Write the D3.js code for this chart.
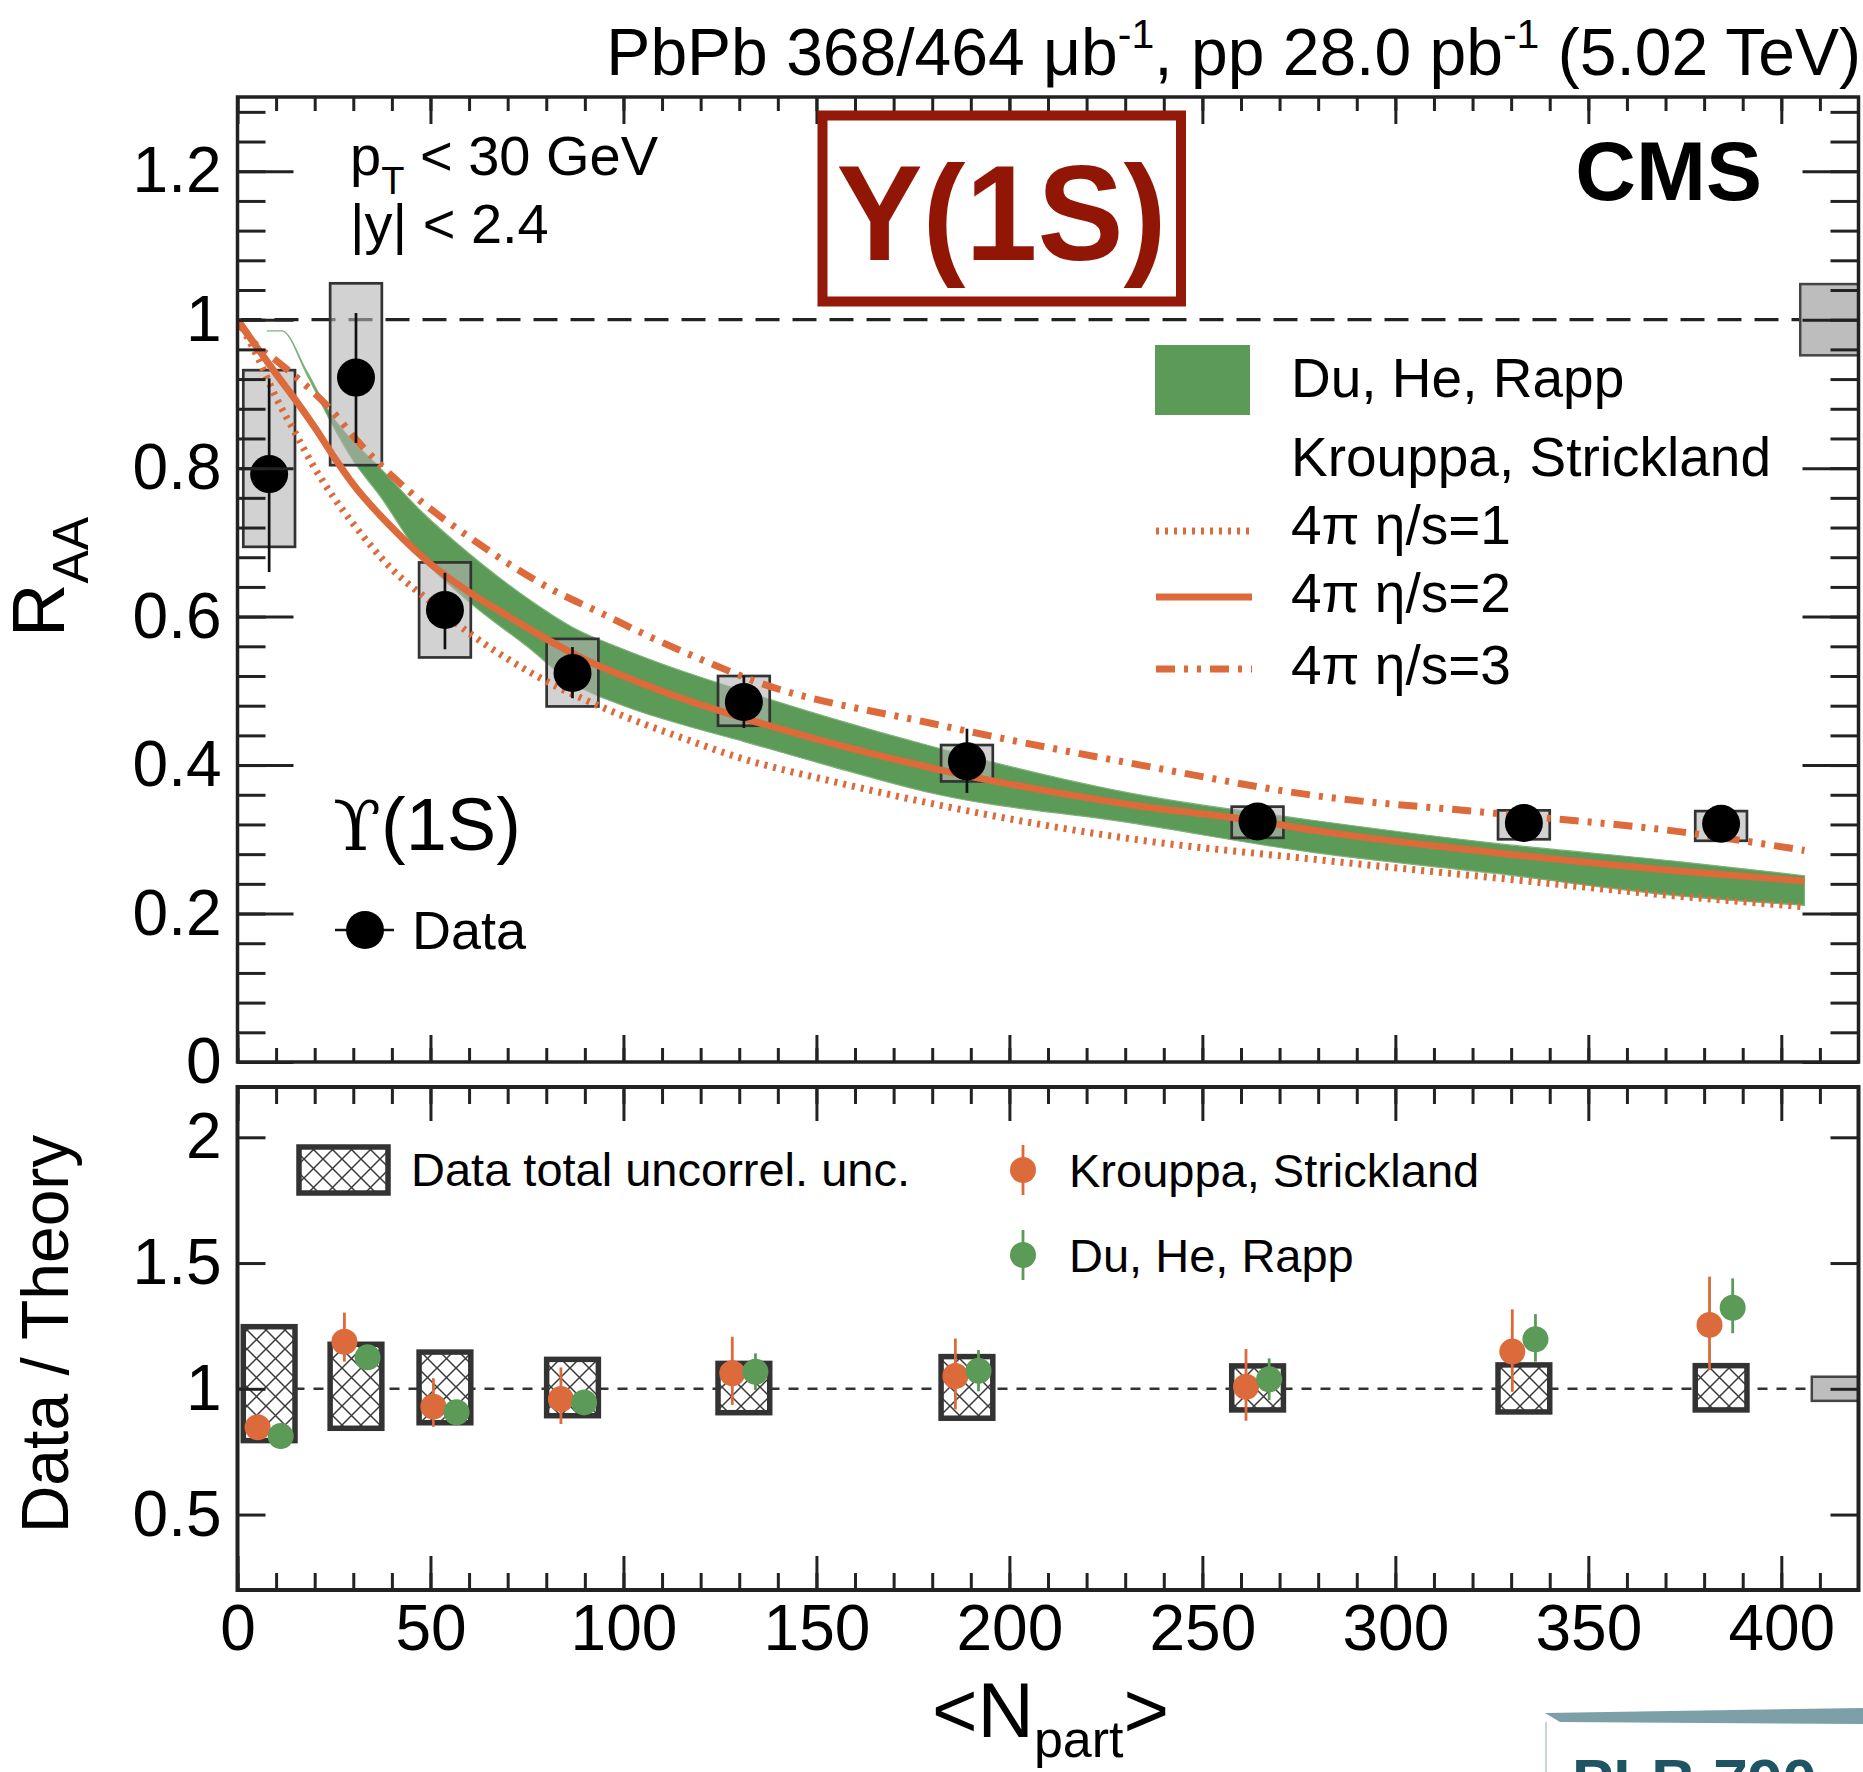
<!DOCTYPE html>
<meta charset="utf-8">
<title>Upsilon(1S) RAA vs Npart</title>
<script src="https://d3js.org/d3.v7.min.js"></script>
<style>
  body { margin: 0; background: #fff; }
  svg { display: block; font-family: "Liberation Sans", Arial, Helvetica, sans-serif; }
</style>
<div id="chart"></div>
<script>
  // ---- data points (Upsilon(1S) R_AA vs <Npart>) ----
  const npart  = [8.2, 30.7, 53.75, 86.8, 131.2, 189.0, 264.3, 333.3, 384.4];
  const raa    = [0.792, 0.922, 0.609, 0.524, 0.485, 0.405, 0.324, 0.322, 0.321];
  const statLo = [0.660, 0.834, 0.556, 0.490, 0.450, 0.3625, 0.304, 0.302, 0.301];
  const statHi = [0.921, 1.009, 0.659, 0.559, 0.520, 0.449, 0.344, 0.342, 0.341];
  const systLo = [0.694, 0.804, 0.545, 0.479, 0.453, 0.378, 0.302, 0.300, 0.298];
  const systHi = [0.932, 1.049, 0.673, 0.570, 0.520, 0.427, 0.344, 0.339, 0.338];
  const globalUnc = 0.048;

  // ---- Du, He, Rapp band ----
  const dhrN  = [7.6, 11.5, 18, 24, 30, 37, 47, 60, 75, 87, 100, 115, 131, 154, 180, 231, 279, 326, 374, 406];
  const dhrHi = [0.985, 0.985, 0.93, 0.874, 0.836, 0.80, 0.745, 0.685, 0.625, 0.585, 0.556, 0.527, 0.50, 0.463, 0.425, 0.3625, 0.3253, 0.2945, 0.2697, 0.251];
  const dhrLo = [0.985, 0.985, 0.926, 0.864, 0.81, 0.762, 0.685, 0.62, 0.56, 0.51, 0.48, 0.455, 0.432, 0.398, 0.362, 0.3224, 0.282, 0.254, 0.2234, 0.211];

  // ---- Krouppa, Strickland curves ----
  const ks1N = [0, 5, 10, 15, 20, 25, 30, 40, 50, 60, 70, 80, 90, 100, 115, 130, 155, 180, 231, 279, 326, 374, 406];
  const ks1R = [1.0, 0.952, 0.895, 0.847, 0.80, 0.76, 0.725, 0.664, 0.62, 0.578, 0.543, 0.513, 0.488, 0.466, 0.437, 0.41, 0.377, 0.348, 0.301, 0.273, 0.248, 0.223, 0.209];
  const ks2N = [0, 5, 10, 15, 20, 25, 30, 40, 50, 60, 70, 80, 90, 100, 115, 130, 155, 180, 231, 265, 279, 326, 374, 406];
  const ks2R = [1.0, 0.963, 0.927, 0.892, 0.855, 0.815, 0.778, 0.72, 0.671, 0.633, 0.601, 0.57, 0.542, 0.52, 0.49, 0.465, 0.428, 0.396, 0.347, 0.324, 0.312, 0.282, 0.257, 0.244];
  const ks3N = [0, 5, 10, 14, 24, 31, 46, 62, 70, 82, 92.5, 108, 123, 133, 180, 234, 279, 326, 374, 406];
  const ks3R = [1.0, 0.965, 0.945, 0.928, 0.88, 0.837, 0.762, 0.70, 0.672, 0.635, 0.609, 0.57, 0.536, 0.515, 0.456, 0.40, 0.359, 0.335, 0.31, 0.285];

  // ---- ratio panel ----
  const uncorrLo = [0.794, 0.843, 0.865, 0.893, 0.905, 0.883, 0.916, 0.908, 0.916];
  const uncorrHi = [1.247, 1.177, 1.146, 1.117, 1.101, 1.128, 1.091, 1.095, 1.092];
  const ksRatio  = [0.847, 1.187, 0.929, 0.959, 1.062, 1.051, 1.008, 1.148, 1.254];
  const ksErrLo  = [0.81, 1.108, 0.849, 0.86, 0.936, 0.918, 0.873, 0.988, 1.075];
  const ksErrHi  = [0.885, 1.303, 1.042, 1.085, 1.207, 1.2, 1.158, 1.316, 1.446];
  const dhrRatio = [0.812, 1.125, 0.907, 0.946, 1.068, 1.072, 1.038, 1.197, 1.322];
  const dhrErrLo = [0.78, 1.085, 0.875, 0.915, 0.995, 0.99, 0.955, 1.108, 1.221];
  const dhrErrHi = [0.845, 1.165, 0.94, 0.977, 1.141, 1.154, 1.121, 1.297, 1.439];

  const rTicks = [0, 0.2, 0.4, 0.6, 0.8, 1, 1.2];
  const ratioTicks = [0.5, 1, 1.5, 2];
  const xTicks = [0, 50, 100, 150, 200, 250, 300, 350, 400];

  // ---- layout ----
  const W = 1863, H = 1772;
  const left = 237.5, right = 1858.5;
  const top1 = 97, bot1 = 1062, top2 = 1087, bot2 = 1590;
  const boxHalf = 6.7, shift = 3;
  const orange = "#DD6A3A", green = "#5B9A57", darkRed = "#931A0B";
  const font = "'Liberation Sans', Arial, Helvetica, sans-serif";

  const x = d3.scaleLinear().domain([0, 420]).range([left, right]);
  const y = d3.scaleLinear().domain([0, 1.3]).range([bot1, top1]);
  const y2 = d3.scaleLinear().domain([0.2, 2.2]).range([bot2, top2]);

  const svg = d3.select("#chart").append("svg")
    .attr("width", W).attr("height", H);

  const defs = svg.append("defs");
  const hatch = defs.append("pattern")
    .attr("id", "hatch").attr("patternUnits", "userSpaceOnUse")
    .attr("width", 19).attr("height", 19);
  hatch.append("rect").attr("width", 19).attr("height", 19).attr("fill", "#fff");
  hatch.append("path").attr("d", "M0,0L19,19M0,19L19,0M-2,17L2,21M17,-2L21,2")
    .attr("stroke", "#3a3a3a").attr("stroke-width", 1.5);

  defs.append("clipPath").attr("id", "clipTop")
    .append("rect").attr("x", left).attr("y", top1).attr("width", right - left).attr("height", bot1 - top1);
  defs.append("clipPath").attr("id", "clipBot")
    .append("rect").attr("x", left).attr("y", top2).attr("width", right - left).attr("height", bot2 - top2);

  // ================= top panel =================
  const gTop = svg.append("g").attr("clip-path", "url(#clipTop)");
  const idx = d3.range(npart.length);

  // unity line
  gTop.append("line")
    .attr("x1", left).attr("x2", right).attr("y1", y(1)).attr("y2", y(1))
    .attr("stroke", "#222").attr("stroke-width", 3.2).attr("stroke-dasharray", "24,13");

  // global uncertainty
  gTop.append("rect")
    .attr("x", x(404.9)).attr("width", x(420) - x(404.9) + 4)
    .attr("y", y(1 + globalUnc)).attr("height", y(1 - globalUnc) - y(1 + globalUnc))
    .attr("fill", "#bdbdbd").attr("stroke", "#444").attr("stroke-width", 2.5);

  // Du, He, Rapp band
  const band = d3.area()
    .x(i => x(dhrN[i])).y0(i => y(dhrLo[i])).y1(i => y(dhrHi[i]))
    .curve(d3.curveMonotoneX);
  gTop.append("path")
    .attr("d", band(d3.range(dhrN.length)))
    .attr("fill", green).attr("stroke", "#7fb27b").attr("stroke-width", 1.2);

  // systematic boxes
  gTop.selectAll(".syst").data(idx).join("rect")
    .attr("class", "syst")
    .attr("x", i => x(npart[i] - boxHalf)).attr("width", i => x(npart[i] + boxHalf) - x(npart[i] - boxHalf))
    .attr("y", i => y(systHi[i])).attr("height", i => y(systLo[i]) - y(systHi[i]))
    .attr("fill", "#b4b4b4").attr("fill-opacity", 0.6)
    .attr("stroke", "#333").attr("stroke-width", 2.7);

  // Krouppa, Strickland curves
  const ksLine = (N, R) => d3.line().x(i => x(N[i])).y(i => y(R[i])).curve(d3.curveMonotoneX)(d3.range(N.length));
  gTop.append("path").attr("d", ksLine(ks1N, ks1R))
    .attr("fill", "none").attr("stroke", orange).attr("stroke-width", 7).attr("stroke-dasharray", "3,6");
  gTop.append("path").attr("d", ksLine(ks3N, ks3R))
    .attr("fill", "none").attr("stroke", orange).attr("stroke-width", 7).attr("stroke-dasharray", "19,9,4,9,4,9");
  gTop.append("path").attr("d", ksLine(ks2N, ks2R))
    .attr("fill", "none").attr("stroke", orange).attr("stroke-width", 7);

  // stat errors and points
  gTop.selectAll(".stat").data(idx).join("line")
    .attr("class", "stat")
    .attr("x1", i => x(npart[i])).attr("x2", i => x(npart[i]))
    .attr("y1", i => y(statLo[i])).attr("y2", i => y(statHi[i]))
    .attr("stroke", "#111").attr("stroke-width", 2.7);
  gTop.selectAll(".pt").data(idx).join("circle")
    .attr("class", "pt")
    .attr("cx", i => x(npart[i])).attr("cy", i => y(raa[i])).attr("r", 19)
    .attr("fill", "#000");

  // ================= bottom panel =================
  const gBot = svg.append("g").attr("clip-path", "url(#clipBot)");
  gBot.append("line")
    .attr("x1", left).attr("x2", right).attr("y1", y2(1)).attr("y2", y2(1))
    .attr("stroke", "#333").attr("stroke-width", 2.5).attr("stroke-dasharray", "10,9");

  gBot.append("rect")
    .attr("x", x(407.9)).attr("width", x(420) - x(407.9) + 4)
    .attr("y", y2(1 + globalUnc)).attr("height", y2(1 - globalUnc) - y2(1 + globalUnc))
    .attr("fill", "#bdbdbd").attr("stroke", "#444").attr("stroke-width", 2.5);

  gBot.selectAll(".unc").data(idx).join("rect")
    .attr("class", "unc")
    .attr("x", i => x(npart[i] - boxHalf)).attr("width", i => x(npart[i] + boxHalf) - x(npart[i] - boxHalf))
    .attr("y", i => y2(uncorrHi[i])).attr("height", i => y2(uncorrLo[i]) - y2(uncorrHi[i]))
    .attr("fill", "url(#hatch)").attr("stroke", "#333").attr("stroke-width", 5.5);

  function ratioSeries(vals, lo, hi, dx, color) {
    gBot.append("g").selectAll("line").data(idx).join("line")
      .attr("x1", i => x(npart[i] + dx)).attr("x2", i => x(npart[i] + dx))
      .attr("y1", i => y2(lo[i])).attr("y2", i => y2(hi[i]))
      .attr("stroke", color).attr("stroke-width", 2.8);
    gBot.append("g").selectAll("circle").data(idx).join("circle")
      .attr("cx", i => x(npart[i] + dx)).attr("cy", i => y2(vals[i])).attr("r", 13)
      .attr("fill", color);
  }
  ratioSeries(ksRatio, ksErrLo, ksErrHi, -shift, orange);
  ratioSeries(dhrRatio, dhrErrLo, dhrErrHi, shift, green);

  // ================= axes / frames =================
  function addAxis(gen, tx, ty, labelled) {
    const g = svg.append("g").attr("transform", `translate(${tx},${ty})`).call(gen);
    g.attr("font-family", font).attr("font-size", 64);
    g.select(".domain").remove();
    g.selectAll("line").attr("stroke", "#222").attr("stroke-width", 3);
    g.selectAll("text").attr("fill", "#000");
    if (!labelled) g.selectAll("text").remove();
    return g;
  }
  const fmt = d3.format("~g");
  const minorR = d3.range(0, 1.3, 0.04);
  const minorX = d3.range(0, 420, 10);

  // top panel
  addAxis(d3.axisLeft(y).tickValues(rTicks).tickSize(-56).tickPadding(16).tickFormat(fmt), left, 0, true);
  addAxis(d3.axisLeft(y).tickValues(minorR).tickSize(-28), left, 0, false);
  addAxis(d3.axisRight(y).tickValues(rTicks).tickSize(-56), right, 0, false);
  addAxis(d3.axisRight(y).tickValues(minorR).tickSize(-28), right, 0, false);
  addAxis(d3.axisTop(x).tickValues(xTicks).tickSize(-27), 0, top1, false);
  addAxis(d3.axisTop(x).tickValues(minorX).tickSize(-14), 0, top1, false);
  addAxis(d3.axisBottom(x).tickValues(xTicks).tickSize(-27), 0, bot1, false);
  addAxis(d3.axisBottom(x).tickValues(minorX).tickSize(-14), 0, bot1, false);

  // bottom panel
  addAxis(d3.axisLeft(y2).tickValues(ratioTicks).tickSize(-28).tickPadding(16).tickFormat(fmt), left, 0, true);
  addAxis(d3.axisRight(y2).tickValues(ratioTicks).tickSize(-28), right, 0, false);
  addAxis(d3.axisBottom(x).tickValues(xTicks).tickSize(-34).tickPadding(15).tickFormat(fmt), 0, bot2, true);
  addAxis(d3.axisBottom(x).tickValues(minorX).tickSize(-17), 0, bot2, false);
  addAxis(d3.axisTop(x).tickValues(xTicks).tickSize(-34), 0, top2, false);
  addAxis(d3.axisTop(x).tickValues(minorX).tickSize(-17), 0, top2, false);

  svg.append("rect").attr("x", left).attr("y", top1).attr("width", right - left).attr("height", bot1 - top1)
    .attr("fill", "none").attr("stroke", "#222").attr("stroke-width", 3.5);
  svg.append("rect").attr("x", left).attr("y", top2).attr("width", right - left).attr("height", bot2 - top2)
    .attr("fill", "none").attr("stroke", "#222").attr("stroke-width", 4);

  // ================= texts =================
  const txt = (xp, yp, size, s) => svg.append("text")
    .attr("x", xp).attr("y", yp).attr("font-size", size).attr("font-family", font).attr("fill", "#000").text(s);

  // luminosity header
  const head = svg.append("text").attr("x", 1861).attr("y", 75).attr("text-anchor", "end")
    .attr("font-size", 66).attr("font-family", font);
  head.append("tspan").text("PbPb 368/464 \u03BCb");
  head.append("tspan").attr("font-size", 41).attr("dy", -27).text("-1");
  head.append("tspan").attr("dy", 27).text(", pp 28.0 pb");
  head.append("tspan").attr("font-size", 41).attr("dy", -27).text("-1");
  head.append("tspan").attr("dy", 27).text(" (5.02 TeV)");

  txt(1762, 200, 84, "CMS").attr("text-anchor", "end").attr("font-weight", "bold");

  // red Y(1S) box
  svg.append("rect").attr("x", 822.5).attr("y", 115.5).attr("width", 358.5).attr("height", 186)
    .attr("fill", "#fff").attr("stroke", darkRed).attr("stroke-width", 10);
  txt(1001.5, 260, 136, "Y(1S)").attr("text-anchor", "middle").attr("font-weight", "bold")
    .attr("fill", "#921606").attr("textLength", 330).attr("lengthAdjust", "spacingAndGlyphs");

  // kinematic cuts
  const pt = txt(350, 175, 56, "p");
  pt.append("tspan").attr("font-size", 38).attr("dy", 19).text("T");
  pt.append("tspan").attr("dy", -19).text(" < 30 GeV");
  txt(350, 243, 56, "|y| < 2.4");

  // Upsilon label and Data legend
  const ups = txt(333, 850, 74, "");
  ups.append("tspan").attr("font-family", "'DejaVu Serif', serif").attr("font-size", 70).text("\u03D2");
  ups.append("tspan").text("(1S)");
  svg.append("line").attr("x1", 335).attr("x2", 394).attr("y1", 930).attr("y2", 930)
    .attr("stroke", "#111").attr("stroke-width", 2.7);
  svg.append("circle").attr("cx", 365).attr("cy", 930).attr("r", 19).attr("fill", "#000");
  txt(412, 949, 54, "Data");

  // theory legend (top panel)
  svg.append("rect").attr("x", 1155).attr("y", 345).attr("width", 95).attr("height", 70).attr("fill", green);
  txt(1291, 397, 55, "Du, He, Rapp");
  txt(1291, 476, 55, "Krouppa, Strickland");
  const legLines = [
    { y: 531, dash: "3,6", label: "4\u03C0 \u03B7/s=1", ty: 544 },
    { y: 597, dash: null, label: "4\u03C0 \u03B7/s=2", ty: 612 },
    { y: 669, dash: "19,9,4,9,4,9", label: "4\u03C0 \u03B7/s=3", ty: 684 }
  ];
  legLines.forEach(l => {
    svg.append("line").attr("x1", 1156).attr("x2", 1252).attr("y1", l.y).attr("y2", l.y)
      .attr("stroke", orange).attr("stroke-width", 7).attr("stroke-dasharray", l.dash);
    txt(1291, l.ty, 55, l.label);
  });

  // ratio legend
  svg.append("rect").attr("x", 299).attr("y", 1147).attr("width", 89).attr("height", 46)
    .attr("fill", "url(#hatch)").attr("stroke", "#333").attr("stroke-width", 5.5);
  txt(411, 1186, 47, "Data total uncorrel. unc.");
  [[1170, orange, "Krouppa, Strickland", 1187], [1255, green, "Du, He, Rapp", 1272]].forEach(([cy, c, s, ty]) => {
    svg.append("line").attr("x1", 1023).attr("x2", 1023).attr("y1", cy - 25).attr("y2", cy + 25)
      .attr("stroke", c).attr("stroke-width", 2.8);
    svg.append("circle").attr("cx", 1023).attr("cy", cy).attr("r", 13).attr("fill", c);
    txt(1069, ty, 47, s);
  });

  // axis titles
  const ry = svg.append("text").attr("transform", "translate(64,637) rotate(-90)")
    .attr("font-size", 74).attr("font-family", font).text("R");
  ry.append("tspan").attr("font-size", 50).attr("dy", 24).text("AA");
  svg.append("text").attr("transform", "translate(68,1334) rotate(-90)")
    .attr("text-anchor", "middle").attr("font-size", 66).attr("font-family", font).text("Data / Theory");
  const xt = txt(932, 1737, 78, "<N");
  xt.append("tspan").attr("font-size", 52).attr("dy", 20).text("part");
  xt.append("tspan").attr("dy", -20).text(">");

  // cropped journal tag in the corner
  svg.append("path").attr("d", "M1545,1713L1863,1708L1863,1724L1560,1722Z").attr("fill", "#7d9fa8");
  svg.append("line").attr("x1", 1546).attr("x2", 1546).attr("y1", 1722).attr("y2", 1772)
    .attr("stroke", "#c9d6d9").attr("stroke-width", 2);
  txt(1572, 1802, 62, "PLB 790").attr("font-weight", "bold").attr("fill", "#1f5563");
</script>
